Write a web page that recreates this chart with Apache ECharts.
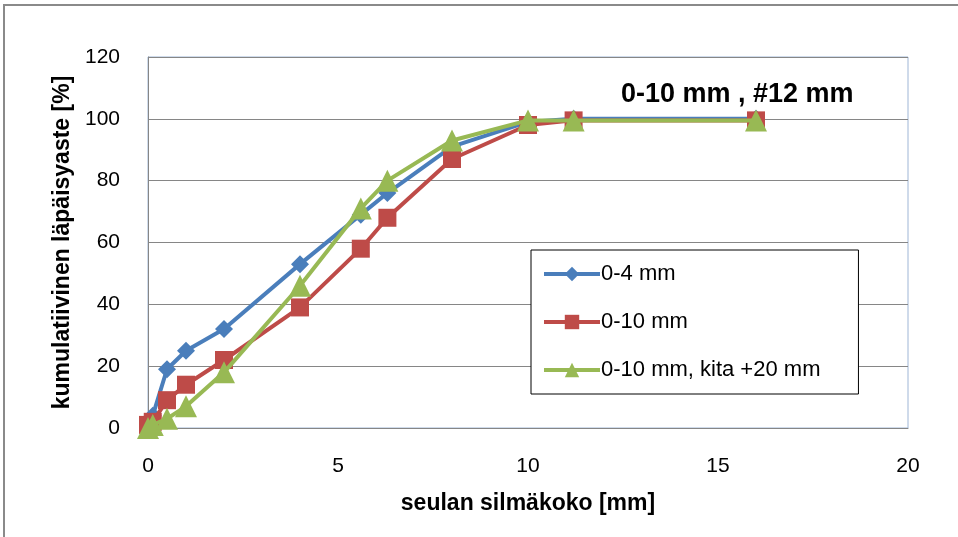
<!DOCTYPE html>
<html>
<head>
<meta charset="utf-8">
<script src="https://cdn.jsdelivr.net/npm/echarts@6/dist/echarts.min.js"></script>
<style>
    html, body { margin: 0; padding: 0; background: #fff; }
    #chart { width: 958px; height: 537px; }
</style>
</head>
<body>
<div id="chart"></div>
<script>
// seulan silmäkoko [mm]
const sieves = [0, 0.125, 0.5, 1, 2, 4, 5.6, 6.3, 8, 10, 11.2, 16];
const pass04 = [1, 4, 19, 25, 32, 53, 69, 76, 91, 99, 100, 100];
const pass010 = [1, 2, 9, 14, 22, 39, 58, 68, 87, 98, 99.5, 99.5];
const pass010kita = [0, 1, 3, 7, 18, 46, 71, 80, 93, 99.5, 99.5, 99.5];
const seriesNames = ['0-4 mm', '0-10 mm', '0-10 mm, kita +20 mm'];
const xTicks = [0, 5, 10, 15, 20];
const yTicks = [0, 20, 40, 60, 80, 100, 120];

const colors = ['#4a7ebb', '#be4b48', '#98b954'];
const symbols = ['diamond', 'rect', 'triangle'];
const sizes = [18, 18, 22];
const font = 'Liberation Sans, Arial, sans-serif';

function pairs(ys) {
    return sieves.map((x, i) => [x, ys[i]]);
}

const chart = echarts.init(document.getElementById('chart'));
const option = {
    backgroundColor: '#fff',
    animation: false,
    title: {
        text: '0-10 mm , #12 mm',
        left: 616,
        top: 76,
        textStyle: { fontFamily: font, fontSize: 27, fontWeight: 'bold', color: '#000' }
    },
    graphic: [{
        type: 'rect',
        shape: { x: 4, y: 5, width: 1200, height: 800 },
        style: { fill: 'none', stroke: '#8a8a8a', lineWidth: 2 },
        silent: true
    }],
    legend: {
        orient: 'vertical',
        left: 531,
        top: 250,
        padding: [13, 38, 13, 11],
        itemGap: 26,
        itemWidth: 56,
        itemHeight: 18,
        borderColor: '#000',
        borderWidth: 1,
        backgroundColor: '#fff',
        lineStyle: { width: 4 },
        textStyle: { fontFamily: font, fontSize: 22, color: '#000', padding: [0, 0, 0, -4] },
        data: seriesNames
    },
    grid: {
        left: 148, right: 50, top: 57, bottom: 109,
        show: true,
        borderColor: '#9fb6d6',
        borderWidth: 1
    },
    xAxis: {
        type: 'value',
        min: xTicks[0],
        max: xTicks[xTicks.length - 1],
        interval: 5,
        name: 'seulan silmäkoko [mm]',
        nameLocation: 'middle',
        nameGap: 64,
        nameTextStyle: { fontFamily: font, fontSize: 23, fontWeight: 'bold', color: '#000' },
        axisLine: { show: true, lineStyle: { color: '#868686' } },
        axisTick: { show: false },
        splitLine: { show: false },
        axisLabel: { fontFamily: font, fontSize: 21, color: '#000', margin: 28 }
    },
    yAxis: {
        type: 'value',
        min: yTicks[0],
        max: yTicks[yTicks.length - 1],
        interval: 20,
        name: 'kumulatiivinen läpäisyaste [%]',
        nameLocation: 'middle',
        nameGap: 74,
        nameTextStyle: { fontFamily: font, fontSize: 23, fontWeight: 'bold', color: '#000' },
        axisLine: { show: true, lineStyle: { color: '#868686' } },
        axisTick: { show: false },
        splitLine: { lineStyle: { color: '#868686' } },
        axisLabel: { fontFamily: font, fontSize: 21, color: '#000', margin: 28 }
    },
    series: [pass04, pass010, pass010kita].map((ys, i) => ({
        name: seriesNames[i],
        type: 'line',
        data: pairs(ys),
        symbol: symbols[i],
        symbolSize: sizes[i],
        showAllSymbol: true,
        clip: false,
        lineStyle: { color: colors[i], width: 4 },
        itemStyle: { color: colors[i] },
        z: 2 + i
    }))
};
chart.setOption(option);
window.addEventListener('resize', () => chart.resize());
</script>
</body>
</html>
